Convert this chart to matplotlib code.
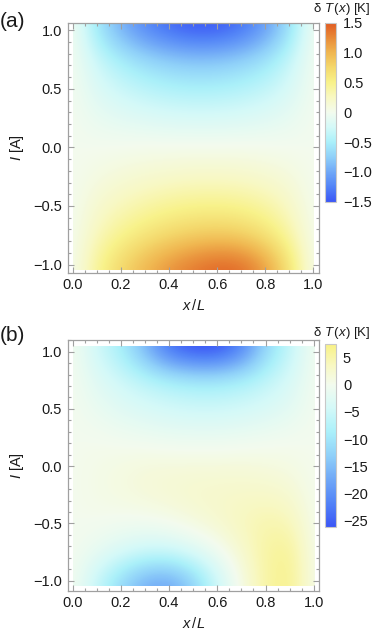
import numpy as np
import matplotlib
matplotlib.use("Agg")
import matplotlib.pyplot as plt
from matplotlib.colors import LinearSegmentedColormap, ListedColormap
from matplotlib.patches import Rectangle
from matplotlib.ticker import MultipleLocator, FixedLocator, FixedFormatter

plt.rcParams['font.family'] = ['Liberation Sans', 'DejaVu Sans']
plt.rcParams['mathtext.fontset'] = 'custom'
plt.rcParams['mathtext.rm'] = 'Liberation Sans'
plt.rcParams['mathtext.it'] = 'Liberation Sans:italic'

# ---------------- data ----------------
x_grid = [0.0, 0.1, 0.2, 0.3, 0.4, 0.5, 0.6, 0.7, 0.8, 0.9, 1.0]
I_grid = [-1.0, -0.75, -0.5, -0.25, 0.0, 0.25, 0.5, 0.75, 1.0]

# panel (a): rows follow I_grid, columns follow x_grid  (delta T in K)
dT_a = [
    [0, 0.45, 0.76, 1.00, 1.20, 1.35, 1.45, 1.42, 1.15, 0.66, 0],
    [0, 0.28, 0.47, 0.62, 0.74, 0.82, 0.85, 0.81, 0.65, 0.38, 0],
    [0, 0.17, 0.28, 0.37, 0.44, 0.48, 0.49, 0.46, 0.38, 0.22, 0],
    [0, 0.07, 0.12, 0.16, 0.19, 0.21, 0.21, 0.20, 0.16, 0.10, 0],
    [0, 0.00, 0.01, 0.02, 0.02, 0.02, 0.02, 0.02, 0.01, 0.00, 0],
    [0, -0.08, -0.13, -0.17, -0.20, -0.21, -0.21, -0.19, -0.15, -0.09, 0],
    [0, -0.19, -0.31, -0.40, -0.46, -0.49, -0.48, -0.44, -0.36, -0.22, 0],
    [0, -0.31, -0.52, -0.67, -0.77, -0.82, -0.81, -0.74, -0.60, -0.35, 0],
    [0, -0.58, -0.95, -1.22, -1.40, -1.50, -1.49, -1.36, -1.08, -0.64, 0],
]

# panel (b)
dT_b = [
    [0, -6.0, -12.0, -17.0, -18.0, -13.0, -5.0, 1.0, 5.5, 7.0, 0],
    [0, -1.5, -3.5, -5.0, -5.0, -3.0, -0.5, 2.5, 5.5, 6.5, 0],
    [0, 0.0, -0.3, -0.3, 0.3, 1.3, 2.4, 3.8, 4.8, 4.2, 0],
    [0, 0.6, 1.1, 1.7, 2.1, 2.6, 2.8, 2.9, 2.9, 2.3, 0],
    [0, 0.5, 1.0, 1.5, 1.6, 1.6, 1.6, 1.6, 1.3, 0.8, 0],
    [0, 0.0, -0.4, -0.8, -1.2, -1.3, -1.3, -1.0, -0.6, -0.2, 0],
    [0, -1.3, -2.7, -3.7, -4.5, -5.0, -5.0, -4.5, -3.6, -2.2, 0],
    [0, -2.8, -5.0, -7.0, -8.5, -9.5, -9.5, -8.5, -6.5, -3.8, 0],
    [0, -5.0, -9.0, -16.0, -24.0, -27.0, -27.0, -22.0, -12.0, -6.0, 0],
]

x_ticks = [0.0, 0.2, 0.4, 0.6, 0.8, 1.0]
x_ticklabels = ["0.0", "0.2", "0.4", "0.6", "0.8", "1.0"]
I_ticks = [-1.0, -0.5, 0.0, 0.5, 1.0]
I_ticklabels = ["\u22121.0", "\u22120.5", "0.0", "0.5", "1.0"]

cb_a_ticks = [-1.5, -1.0, -0.5, 0, 0.5, 1.0, 1.5]
cb_a_labels = ["\u22121.5", "\u22121.0", "\u22120.5", "0", "0.5", "1.0", "1.5"]
cb_b_ticks = [-25, -20, -15, -10, -5, 0, 5]
cb_b_labels = ["\u221225", "\u221220", "\u221215", "\u221210", "\u22125", "0", "5"]

range_a = (-1.5, 1.5)
range_b = (-26.1, 7.4)

# ---------------- style ----------------
cmap_colors = ["#3b57f6", "#5283f7", "#70a8f7", "#8fd0f9", "#aaf0fa", "#d4f9f8",
               "#f3fbee", "#f8f8c2", "#f8f28a", "#f4d86c", "#f0b650", "#e88a38", "#e05a22"]
full_cmap = LinearSegmentedColormap.from_list("temp", cmap_colors, N=512)
b_cmap_top = 0.675   # fraction of the full colour scale shown in panel (b)
b_cmap_zero = 0.5    # zero stays at the neutral colour

W, H = 374, 634
fig = plt.figure(figsize=(W / 100, H / 100), dpi=100)

def px(l, t, r, b):
    return [l / W, 1 - b / H, (r - l) / W, (b - t) / H]

frame_col = "#a0a0a0"
text_col = "#1a1a1a"

def make_panel(ax_rect, cb_rect, data, vrange, cmap, cb_ticks, cb_labels,
               ylim, tag, tag_y, cbtitle_y):
    ax = fig.add_axes(px(*ax_rect))
    x = np.array(x_grid)
    I = np.array(I_grid)
    dx = x[1] - x[0]
    dI = I[1] - I[0]
    im = ax.imshow(np.array(data), origin="lower", cmap=cmap,
                   vmin=vrange[0], vmax=vrange[1],
                   extent=[x[0] - dx / 2, x[-1] + dx / 2, I[0] - dI / 2, I[-1] + dI / 2],
                   interpolation="bicubic", interpolation_stage="data", aspect="auto")
    clip = Rectangle((0, -1.05), 1, 2.1, transform=ax.transData)
    im.set_clip_path(clip)
    ax.set_xlim(-0.02, 1.023)
    ax.set_ylim(*ylim)
    ax.xaxis.set_major_locator(FixedLocator(x_ticks))
    ax.xaxis.set_major_formatter(FixedFormatter(x_ticklabels))
    ax.yaxis.set_major_locator(FixedLocator(I_ticks))
    ax.yaxis.set_major_formatter(FixedFormatter(I_ticklabels))
    ax.xaxis.set_minor_locator(MultipleLocator(0.05))
    ax.yaxis.set_minor_locator(MultipleLocator(0.1))
    ax.tick_params(which="both", direction="in", top=True, right=True,
                   color=frame_col, labelsize=10.5, labelcolor=text_col, width=0.8)
    ax.tick_params(which="major", length=4, pad=4)
    ax.tick_params(which="minor", length=2)
    for s in ax.spines.values():
        s.set_color(frame_col)
        s.set_linewidth(0.9)
    ax.set_xlabel(r"$x\,/L$", fontsize=10.5, color=text_col, labelpad=4)
    ax.set_ylabel(r"$I$ [A]", fontsize=10.5, color=text_col, labelpad=5)
    fig.text(0.0, 1 - tag_y / H, tag, fontsize=15, color=text_col, ha="left", va="center")

    cax = fig.add_axes(px(*cb_rect))
    cb = fig.colorbar(im, cax=cax)
    cb.set_ticks(cb_ticks)
    cb.set_ticklabels(cb_labels)
    cb.outline.set_edgecolor("#c8c8c8")
    cb.outline.set_linewidth(0.8)
    cax.tick_params(length=0, pad=5, labelsize=10.5, labelcolor=text_col)
    fig.text(342 / W, 1 - cbtitle_y / H, "δ $T\\,$($x$) [K]", fontsize=9.5,
             color=text_col, ha="center", va="center")
    return ax

make_panel((67.7, 22.7, 319.0, 272.7), (325.3, 22.7, 336.0, 201.7), dT_a, range_a,
           full_cmap, cb_a_ticks, cb_a_labels, (-1.07, 1.065), "(a)", 21.5, 9.0)

# panel (b) colour scale: negative part spans full blue side, positive part up to b_cmap_top
z_frac = -range_b[0] / (range_b[1] - range_b[0])
t = np.linspace(0, 1, 512)
src = np.where(t <= z_frac, t / z_frac * b_cmap_zero,
               b_cmap_zero + (t - z_frac) / (1 - z_frac) * (b_cmap_top - b_cmap_zero))
b_cmap = ListedColormap(full_cmap(src))
make_panel((67.7, 340.0, 319.3, 590.7), (325.3, 344.0, 336.0, 527.0), dT_b, range_b,
           b_cmap, cb_b_ticks, cb_b_labels, (-1.087, 1.102), "(b)", 335.0, 333.0)

fig.savefig("out.png", dpi=100)
